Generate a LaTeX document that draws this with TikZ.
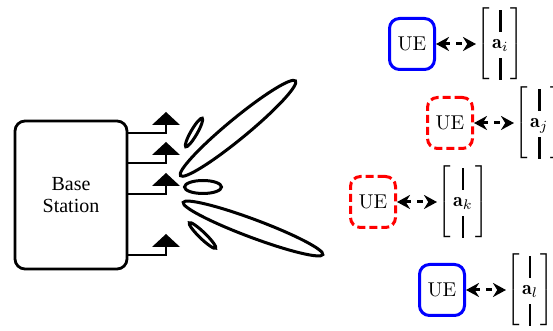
\documentclass[tikz,border=0pt]{standalone}
\usepackage{fontspec}
\usepackage{amsmath}
\usetikzlibrary{arrows.meta,positioning}
\newfontfamily\bsfont{Liberation Serif}
\newcommand{\colvec}[1]{{\arraycolsep=1.2pt\delimiterfactor=1000\delimitershortfall=0pt
  $\left[\begin{array}{c}\rule[-3.6pt]{1.3pt}{11pt}\\ \mathbf{a}_{#1}\\ \rule[-3.6pt]{1.3pt}{11pt}\end{array}\right]$}}

\begin{document}
\begin{tikzpicture}[x=0.5pt, y=-0.5pt,
  bsbox/.style={draw, line width=1.4pt, rounded corners=5pt, minimum width=56pt, minimum height=74pt, align=center, font=\bsfont},
  uesolid/.style={draw=blue, line width=1.5pt, rounded corners=5pt, minimum width=22.5pt, minimum height=25.5pt, inner sep=0pt},
  uedashed/.style={uesolid, draw=red, dash pattern=on 4pt off 2pt},
  vecnode/.style={inner sep=0pt},
  link/.style={{Stealth[length=6.5pt,width=7pt]}-{Stealth[length=6.5pt,width=7pt]}, dash pattern=on 3pt off 3pt, line width=1.5pt},
  lobe/.style={line width=1.5pt},
  feed/.style={line width=1pt}]
  \useasboundingbox (0,0) rectangle (553,331);
  % Base station and its antennas
  \node[bsbox] (bs) at (71,195) {Base\\[-1pt]Station};
  \foreach \y [count=\n] in {125,155,186,247} {
    \coordinate (ant\n) at (166,\y);
    \coordinate (feed\n) at (166,\y+8);
    \fill (ant\n) ++(-14,0) -- ++(28,0) -- ++(-14,-13) -- cycle;
    \draw[feed] (feed\n -| bs.east) -- (feed\n) -- (ant\n);
  }
  % Beam lobes
  \draw[lobe, rotate around={60:(194,132.5)}] (194,132.5) ellipse (16.5 and 3.2);
  \draw[lobe, rotate around={39.5:(238,128.3)}] (238,128.3) ellipse (74.5 and 10);
  \draw[lobe] (203,187) ellipse (18.5 and 6.5);
  \draw[lobe, rotate around={-20.5:(253,228.5)}] (253,228.5) ellipse (74.5 and 9);
  \draw[lobe, rotate around={-44:(202.5,235.5)}] (202.5,235.5) ellipse (18.3 and 3.2);
  % Users and their vectors
  \node[uesolid] (uei) at (412,44) {UE};
  \node[uedashed] (uej) at (450,123) {UE};
  \node[uedashed] (uek) at (373,202) {UE};
  \node[uesolid] (uel) at (442,290) {UE};
  \node[vecnode, right=20pt of uei] (veci) {\colvec{i}};
  \node[vecnode, right=20pt of uej] (vecj) {\colvec{j}};
  \node[vecnode, right=20pt of uek] (veck) {\colvec{k}};
  \node[vecnode, right=20pt of uel] (vecl) {\colvec{l}};
  \draw[link] (uei) -- (veci);
  \draw[link] (uej) -- (vecj);
  \draw[link] (uek) -- (veck);
  \draw[link] (uel) -- (vecl);
\end{tikzpicture}
\end{document}
